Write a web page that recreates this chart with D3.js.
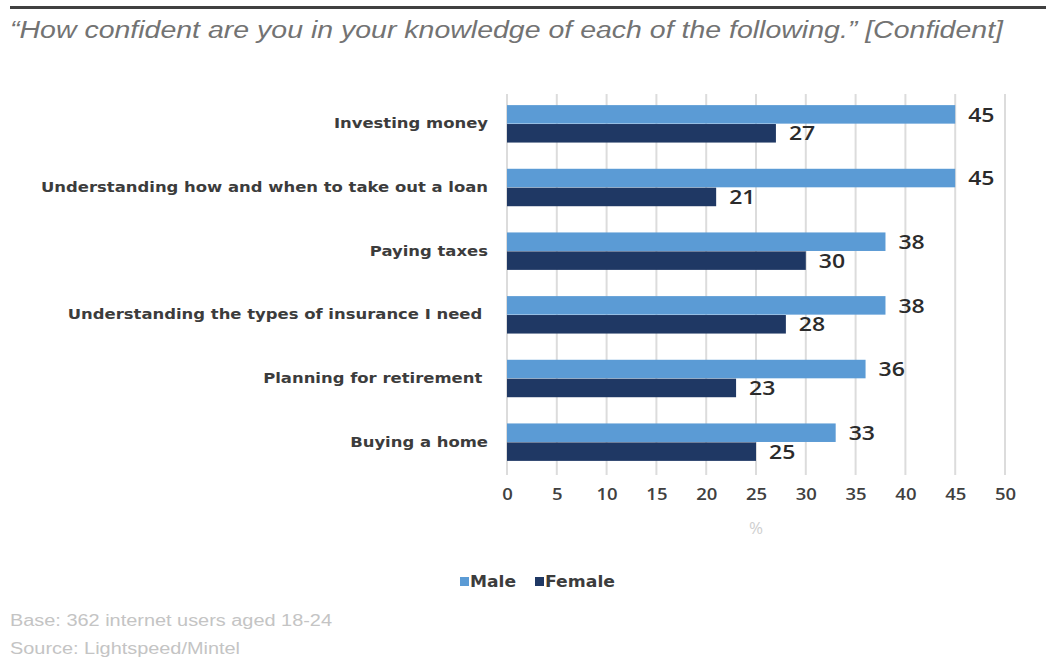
<!DOCTYPE html>
<html><head><meta charset="utf-8">
<script src="https://cdn.jsdelivr.net/npm/d3@7"></script>
<style>body{margin:0;background:#fff;} svg{display:block;}</style>
</head><body>
<svg id="chart" width="1046" height="660"></svg>
<script>
const categories = ["Investing money","Understanding how and when to take out a loan","Paying taxes","Understanding the types of insurance I need ","Planning for retirement ","Buying a home"];
const seriesNames = ["Male","Female"];
const maleValues = [45,45,38,38,36,33];
const femaleValues = [27,21,30,28,23,25];
const xTicks = [0,5,10,15,20,25,30,35,40,45,50];
const colors = {Male:"#5b9bd5", Female:"#1f3864"};

const svg = d3.select("#chart");
const margin = {left:507, right:41, top:92, bottom:186};
const W = 1046, H = 660;
const x = d3.scaleLinear().domain([0,50]).range([margin.left, W - margin.right]);
const y = d3.scaleBand().domain(categories).range([margin.top, H - margin.bottom]).paddingInner(0.4).paddingOuter(0.2);
const sub = d3.scaleBand().domain(seriesNames).range([0, y.bandwidth()]).padding(0.02);

// horizontal stretch helper (the reference is horizontally stretched)
function stretch(sel, k){
  sel.each(function(){ const w = this.getComputedTextLength(); d3.select(this).attr("textLength", w*k).attr("lengthAdjust","spacingAndGlyphs"); });
}
function fitTo(sel, target){
  sel.attr("textLength", target).attr("lengthAdjust","spacingAndGlyphs");
}

// top rule
svg.append("rect").attr("x",10).attr("y",6).attr("width",1036).attr("height",3).attr("fill","#404040");
// title
svg.append("text").attr("x",10).attr("y",38).attr("font-family","Liberation Sans, Arial, sans-serif")
  .attr("font-style","italic").attr("font-size",23).attr("fill","#737373")
  .text("\u201CHow confident are you in your knowledge of each of the following.\u201D [Confident]")
  .call(fitTo, 993);

// gridlines
svg.append("g").selectAll("line").data(xTicks).join("line")
  .attr("x1",d=>x(d)).attr("x2",d=>x(d)).attr("y1",margin.top+2).attr("y2",H-margin.bottom+1)
  .attr("stroke","#dcdcdc").attr("stroke-width",2);

// x axis tick labels
const xAxis = d3.axisBottom(x).tickValues(xTicks).tickSize(0).tickPadding(0);
const gx = svg.append("g").attr("transform",`translate(0,${490})`).call(xAxis);
gx.select(".domain").remove();
gx.selectAll("text").attr("font-family","Open Sans, sans-serif").attr("font-size",16.5).attr("fill","#404040").attr("font-weight",600).attr("dy","0.62em");
stretch(gx.selectAll("text"), 1.12);

svg.append("text").attr("x",x(25)).attr("y",534).attr("text-anchor","middle")
  .attr("font-family","Open Sans, sans-serif").attr("font-size",17).attr("fill","#cfcfcf").text("%");

// y axis labels
const yAxis = d3.axisLeft(y).tickSize(0).tickPadding(19);
const gy = svg.append("g").attr("transform",`translate(${margin.left},0)`).call(yAxis);
gy.select(".domain").remove();
gy.selectAll("text").attr("font-family","DejaVu Sans, sans-serif").attr("font-size",14.5)
  .attr("fill","#3c3c3c").attr("font-weight",700).style("white-space","pre");
{
  let maxW = 0; gy.selectAll("text").each(function(){ maxW = Math.max(maxW, this.getComputedTextLength()); });
  stretch(gy.selectAll("text"), 447/maxW);
}

// bars
const data = categories.map((c,i)=>({cat:c, vals:[{s:"Male",v:maleValues[i]},{s:"Female",v:femaleValues[i]}]}));
const groups = svg.append("g").selectAll("g").data(data).join("g")
  .attr("transform",d=>`translate(0,${y(d.cat)})`);
groups.selectAll("rect").data(d=>d.vals).join("rect")
  .attr("x",x(0)).attr("y",d=>sub(d.s)).attr("height",sub.bandwidth())
  .attr("width",d=>x(d.v)-x(0)).attr("fill",d=>colors[d.s]);
const vl = groups.selectAll("text").data(d=>d.vals).join("text")
  .attr("x",d=>x(d.v)+13).attr("y",d=>sub(d.s)+sub.bandwidth()/2)
  .attr("dy","0.36em").attr("font-family","Open Sans, sans-serif").attr("font-size",20).attr("font-weight",600)
  .attr("fill","#2b2b2b").text(d=>d.v);
stretch(vl, 1.15);

// legend
const legend = svg.append("g").attr("transform","translate(460,582)");
const lx = [0, 75];
const lw = [46, 70];
seriesNames.forEach((s,i)=>{
  const g = legend.append("g").attr("transform",`translate(${lx[i]},0)`);
  g.append("rect").attr("x",0).attr("y",-5).attr("width",9).attr("height",9).attr("fill",colors[s]);
  g.append("text").attr("x",10).attr("y",0).attr("dy","0.36em").attr("font-family","DejaVu Sans, sans-serif")
    .attr("font-size",15).attr("font-weight",700).attr("fill","#3c3c3c").text(s).call(fitTo, lw[i]);
});

// footer
svg.append("text").attr("x",10).attr("y",626).attr("font-family","Liberation Sans, Arial, sans-serif")
  .attr("font-size",16).attr("fill","#c4c4c4").text("Base: 362 internet users aged 18-24").call(fitTo, 322);
svg.append("text").attr("x",10).attr("y",654).attr("font-family","Liberation Sans, Arial, sans-serif")
  .attr("font-size",16).attr("fill","#c4c4c4").text("Source: Lightspeed/Mintel").call(fitTo, 230);
</script>
</body></html>
